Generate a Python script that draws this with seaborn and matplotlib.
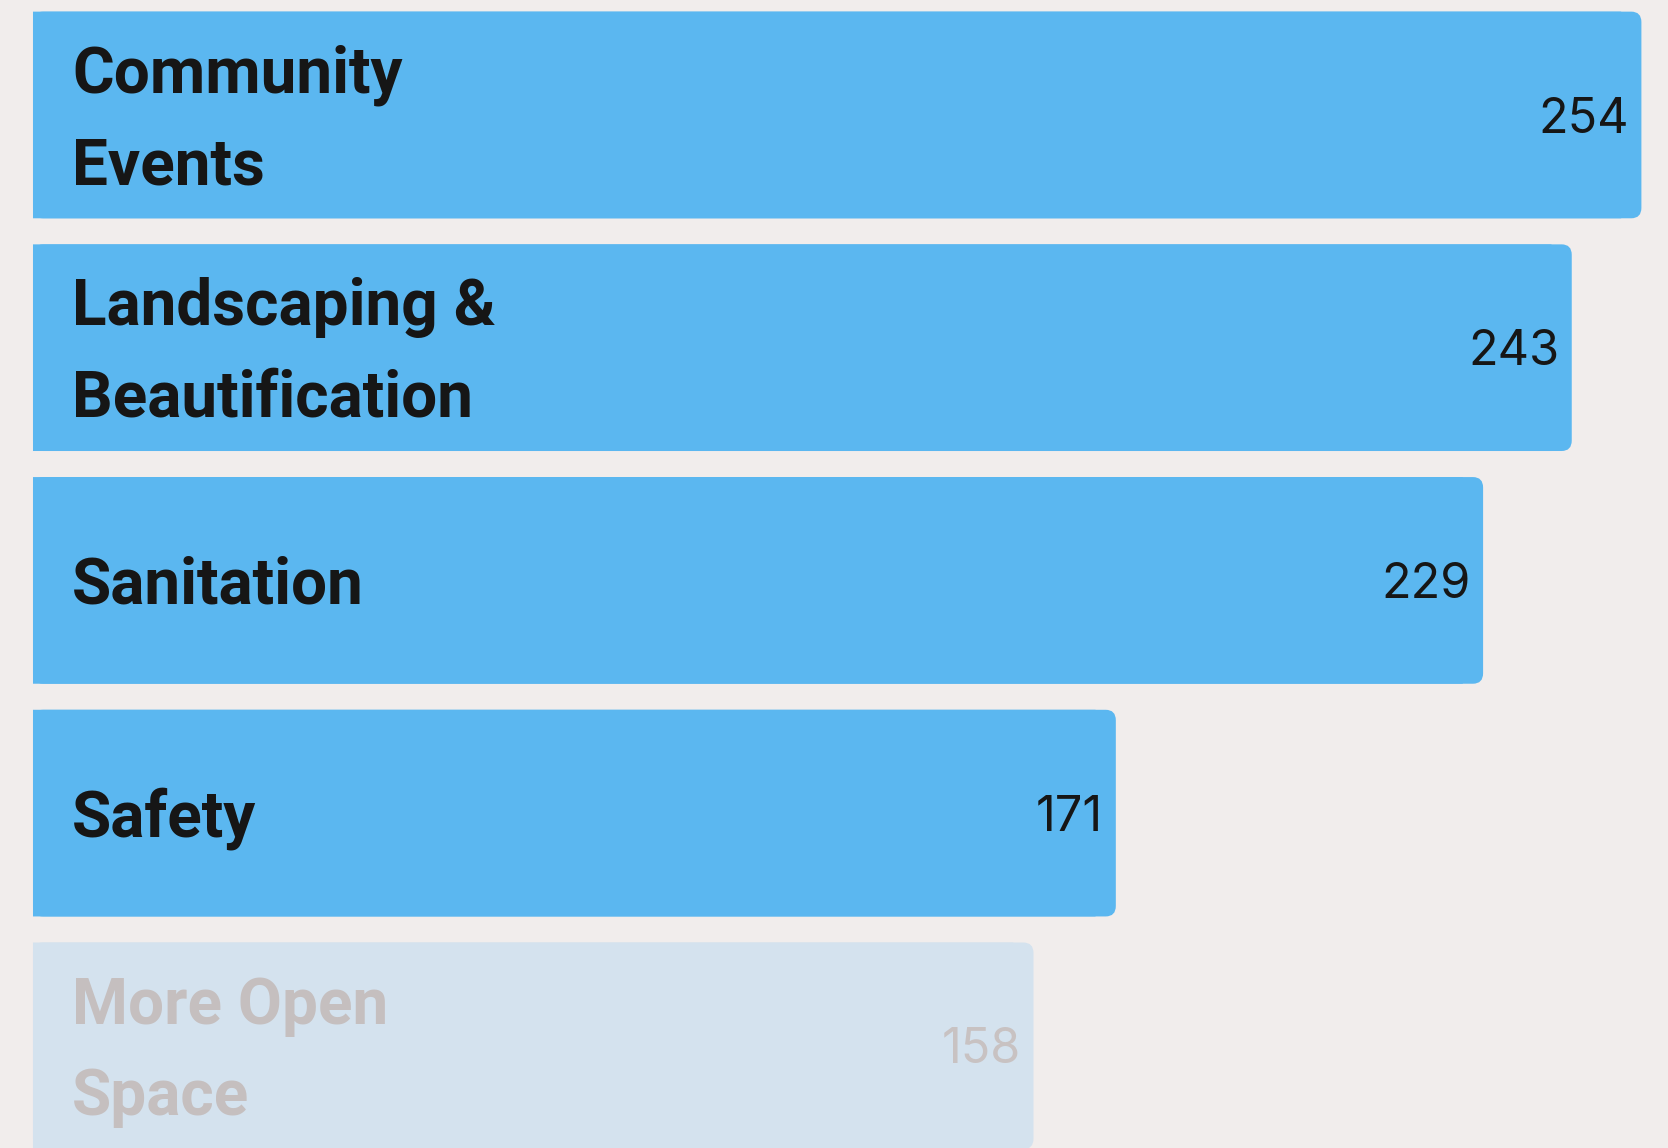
import seaborn as sns
import pandas as pd
from matplotlib import pyplot as plt
from matplotlib.patches import FancyBboxPatch

categories = ["Community\nEvents", "Landscaping &\nBeautification", "Sanitation", "Safety", "More Open\nSpace"]
counts = [254, 243, 229, 171, 158]
highlight = [True, True, True, True, False]

blue = "#5bb7f0"
faded = "#d4e2ee"
bg = "#f1edec"

data = pd.DataFrame({"category": categories, "count": counts})

sns.set_style("white")
fig = plt.figure(figsize=(16.68, 11.48), dpi=100)
fig.patch.set_facecolor(bg)
ax = fig.add_axes([0, 0, 1, 1])
ax.set_facecolor(bg)

pal = [blue if h else faded for h in highlight]
sns.barplot(data=data, x="count", y="category", hue="category", palette=pal,
            legend=False, width=0.888, saturation=1, ax=ax)

ax.set_xlim(-5.21, 258.2)
ax.set_ylim(4.439, -0.494)

# round the right-hand corners
rx = 1.6
ry = 0.045
for p, c in zip(ax.patches, pal):
    x0, y0, w, h = p.get_x(), p.get_y(), p.get_width(), p.get_height()
    p.set_width(w - 2 * rx)
    p.set_edgecolor("none")
    p.set_snap(False)
    fb = FancyBboxPatch((x0, y0), w, h, boxstyle=f"round,pad=0,rounding_size={rx}",
                        mutation_aspect=ry / rx, facecolor=c, edgecolor="none",
                        zorder=p.get_zorder(), snap=False)
    ax.add_patch(fb)

for i, (cat, val, h) in enumerate(zip(categories, counts, highlight)):
    tcol = "#161616" if h else "#c5bfbf"
    vcol = "#161616" if h else "#c8c2c2"
    ax.text(6.2, i + 0.025, cat, ha="left", va="center", fontsize=46, fontweight="bold",
            family="Roboto", color=tcol, linespacing=1.63)
    ax.text(val - 2.0, i + 0.02, str(val), ha="right", va="center", fontsize=35,
            family="Inter", color=vcol)

ax.axis("off")
fig.savefig("out.png", dpi=100, facecolor=bg)
